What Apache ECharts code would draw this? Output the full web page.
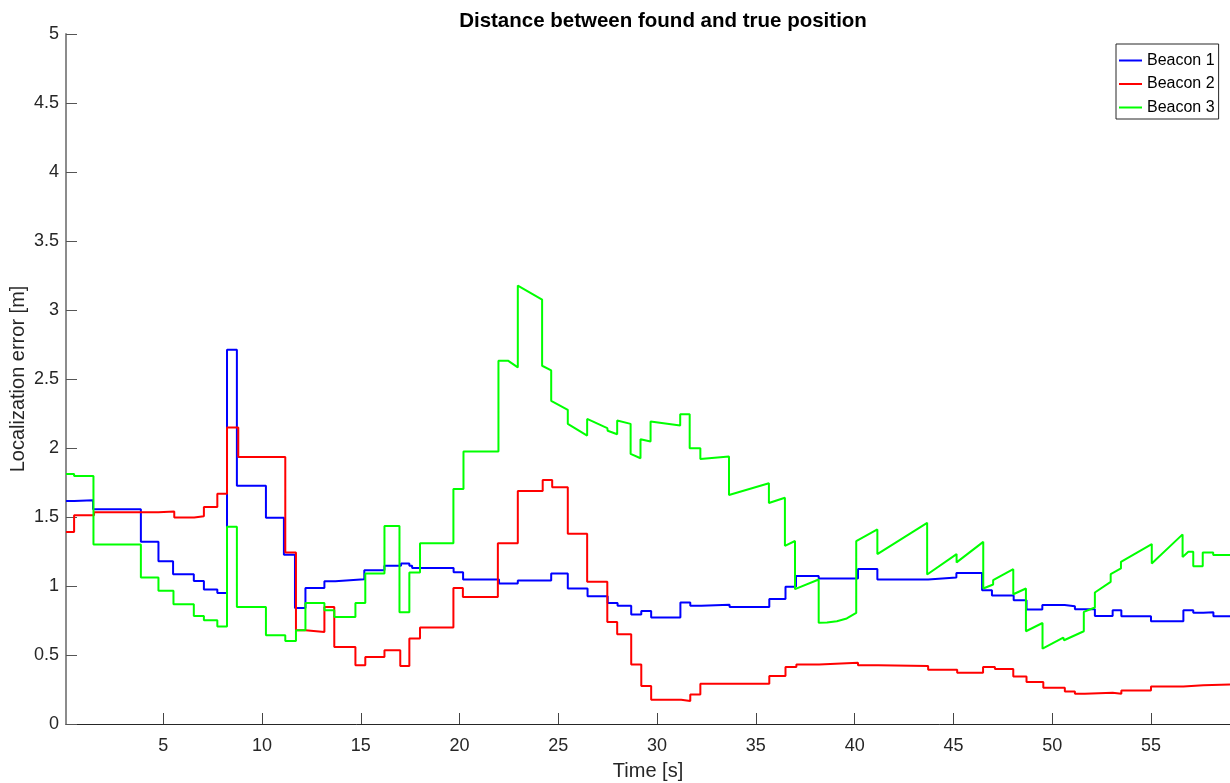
<!DOCTYPE html>
<html>
<head>
<meta charset="utf-8">
<title>Distance between found and true position</title>
<script src="https://cdn.jsdelivr.net/npm/echarts@6/dist/echarts.min.js"></script>
<style>
  html, body { margin: 0; padding: 0; background: #fff; }
  #chart { width: 1230px; height: 783px; }
</style>
</head>
<body>
<div id="chart"></div>
<script>
// Localization error of each beacon over time: [time s, error m]
// Beacons 1 and 2 hold each estimate until the next update (step lines).
const beacon1 = [
  [0.08,1.616],[0.5,1.622],[1.45,1.557],[3.87,1.32],[4.76,1.18],[5.5,1.086],[6.55,1.037],
  [7.06,0.975],[7.74,0.95],[8.23,2.712],[8.73,1.727],[10.2,1.495],[11.11,1.227],[11.67,0.84],
  [12.2,0.986],[13.16,1.035],[13.71,1.049],[15.18,1.115],[16.2,1.146],[17.04,1.163],[17.46,1.146],
  [17.6,1.13],[19.7,1.1],[20.18,1.047],[22.0,1.018],[22.95,1.04],[24.64,1.09],[25.48,0.982],
  [26.48,0.926],[27.5,0.877],[28.0,0.856],[28.69,0.793],[29.2,0.819],[29.7,0.771],[31.18,0.88],
  [31.68,0.856],[32.24,0.865],[33.67,0.848],[35.68,0.905],[36.5,0.994],[37.03,1.072],[38.18,1.054],
  [40.17,1.124],[41.15,1.047],[43.72,1.061],[45.15,1.095],[46.45,0.969],[46.95,0.931],[48.05,0.897],
  [48.7,0.829],[49.5,0.863],[50.63,0.853],[51.15,0.832],[52.16,0.783],[53.06,0.824],[53.5,0.781],
  [55.0,0.744],[56.64,0.824],[57.14,0.807],[57.65,0.81],[58.16,0.781],[59.0,0.781]
];

const beacon2 = [
  [0.08,1.391],[0.49,1.512],[1.5,1.534],[4.76,1.54],[5.56,1.497],[6.57,1.505],[7.06,1.572],
  [7.74,1.669],[8.23,2.148],[8.8,1.935],[11.18,1.242],[11.72,0.679],[12.2,0.667],[13.16,0.848],
  [13.66,0.558],[14.73,0.425],[15.23,0.485],[16.2,0.534],[17.0,0.42],[17.46,0.619],[18.0,0.699],
  [19.69,0.986],[20.17,0.921],[21.94,1.309],[22.95,1.688],[24.21,1.768],[24.69,1.715],[25.48,1.378],
  [26.46,1.03],[27.48,0.739],[27.98,0.65],[28.69,0.432],[29.2,0.275],[29.7,0.176],[31.22,0.167],
  [31.68,0.214],[32.19,0.292],[35.68,0.347],[36.5,0.413],[37.05,0.432],[38.2,0.443],[40.17,0.425],
  [41.19,0.42],[43.72,0.394],[45.19,0.372],[46.5,0.413],[47.1,0.398],[48.03,0.345],[48.7,0.304],
  [49.55,0.263],[50.64,0.236],[51.15,0.219],[51.65,0.226],[53.06,0.22],[53.5,0.243],[55.0,0.272],
  [56.64,0.281],[57.65,0.287],[59.0,0.287]
];

// Beacon 3 drifts between updates, so its samples are joined directly.
const beacon3 = [
  [0.08,1.812],[0.49,1.812],[0.49,1.797],[1.47,1.797],[1.47,1.301],[3.87,1.301],[3.87,1.062],
  [4.76,1.062],[4.76,0.965],[5.52,0.965],[5.52,0.868],[6.55,0.868],[6.55,0.783],[7.06,0.783],
  [7.06,0.752],[7.74,0.752],[7.74,0.706],[8.23,0.706],[8.23,1.429],[8.73,1.429],[8.73,0.848],
  [10.2,0.848],[10.2,0.643],[11.18,0.643],[11.18,0.601],[11.72,0.601],[11.72,0.679],[12.2,0.679],
  [12.2,0.877],[13.16,0.877],[13.16,0.824],[13.66,0.824],[13.66,0.776],[14.73,0.776],[14.73,0.877],
  [15.23,0.877],[15.23,1.091],[16.2,1.091],[16.2,1.434],[16.96,1.434],[16.96,0.81],[17.46,0.81],
  [17.46,1.098],[18.0,1.098],[18.0,1.309],[19.69,1.309],[19.69,1.703],[20.2,1.703],[20.2,1.974],
  [21.97,1.974],[21.97,2.633],[22.45,2.633],[22.95,2.584],[22.95,3.177],[24.18,3.076],[24.18,2.596],
  [24.64,2.562],[24.64,2.342],[25.48,2.277],[25.48,2.175],[26.46,2.09],[26.46,2.211],[27.48,2.144],
  [27.5,2.125],[27.98,2.1],[27.98,2.199],[28.66,2.175],[28.66,1.957],[29.16,1.926],[29.16,2.064],
  [29.67,2.047],[29.67,2.192],[31.17,2.163],[31.17,2.245],[31.65,2.245],[31.65,1.999],[32.19,1.999],
  [32.19,1.921],[33.64,1.938],[33.64,1.659],[35.66,1.744],[35.66,1.601],[36.47,1.64],[36.47,1.291],
  [36.98,1.326],[36.98,0.977],[38.18,1.047],[38.18,0.733],[38.6,0.735],[39.1,0.745],[39.6,0.765],
  [40.08,0.805],[40.08,1.325],[41.15,1.41],[41.15,1.231],[43.67,1.458],[43.67,1.083],[45.16,1.231],
  [45.16,1.171],[46.51,1.32],[46.51,0.982],[47.01,1.011],[47.01,1.042],[48.03,1.122],[48.03,0.94],
  [48.67,0.982],[48.67,0.672],[49.51,0.732],[49.51,0.546],[50.56,0.626],[50.6,0.607],[51.6,0.672],
  [51.6,0.812],[52.16,0.844],[52.16,0.953],[52.96,1.03],[52.96,1.086],[53.48,1.127],[53.48,1.175],
  [55.04,1.304],[55.04,1.163],[56.6,1.374],[56.6,1.211],[56.89,1.248],[57.14,1.248],[57.14,1.144],
  [57.62,1.144],[57.62,1.243],[58.15,1.243],[58.15,1.224],[59.0,1.224]
];

const seriesNames = ['Beacon 1', 'Beacon 2', 'Beacon 3'];
const seriesColors = ['#0000ff', '#ff0000', '#00ff00'];
const timeTicks = [5, 10, 15, 20, 25, 30, 35, 40, 45, 50, 55];
const errorTicks = [0, 0.5, 1, 1.5, 2, 2.5, 3, 3.5, 4, 4.5, 5];
const timeRange = [0.08, 59.0];
const errorRange = [0, 5];

const FONT = '"Liberation Sans", Arial, Helvetica, sans-serif';
const INK = '#262626';

const chart = echarts.init(document.getElementById('chart'), null, { renderer: 'canvas' });

function lineSeries(name, data, color, step) {
  return {
    name: name,
    type: 'line',
    data: data,
    step: step,
    showSymbol: false,
    symbol: 'none',
    clip: true,
    color: color,
    lineStyle: { color: color, width: 2 },
    emphasis: { disabled: true }
  };
}

chart.setOption({
  animation: false,
  backgroundColor: '#ffffff',
  grid: { left: 66, right: 0, top: 34, bottom: 59, containLabel: false, outerBoundsMode: 'none' },
  graphic: [{
    type: 'text',
    x: 663,
    y: 21.5,
    style: {
      text: 'Distance between found and true position',
      font: 'bold 20.5px ' + FONT,
      fill: '#000000',
      textAlign: 'center',
      textVerticalAlign: 'middle'
    }
  }],
  legend: {
    orient: 'vertical',
    left: 1116,
    top: 44,
    data: seriesNames,
    icon: 'rect',
    itemWidth: 23,
    itemHeight: 2,
    itemGap: 7.5,
    padding: [8.5, 4, 3.5, 3],
    borderColor: INK,
    borderWidth: 1,
    backgroundColor: '#ffffff',
    selectedMode: false,
    textStyle: { fontFamily: FONT, fontSize: 16, color: '#000000' }
  },
  xAxis: {
    type: 'value',
    min: timeRange[0],
    max: timeRange[1],
    name: 'Time [s]',
    nameLocation: 'middle',
    nameGap: 37,
    nameMoveOverlap: false,
    nameTextStyle: { fontFamily: FONT, fontSize: 20, color: INK },
    axisLine: { show: true, onZero: false, lineStyle: { color: INK, width: 1 } },
    axisTick: { show: true, inside: true, length: 11, customValues: timeTicks, lineStyle: { color: '#444444' } },
    axisLabel: { customValues: timeTicks, margin: 13, fontFamily: FONT, fontSize: 18, color: INK },
    splitLine: { show: false }
  },
  yAxis: {
    type: 'value',
    min: errorRange[0],
    max: errorRange[1],
    interval: 0.5,
    name: 'Localization error [m]',
    nameLocation: 'middle',
    nameGap: 38,
    nameMoveOverlap: false,
    nameRotate: 90,
    nameTextStyle: { fontFamily: FONT, fontSize: 20, color: INK },
    axisLine: { show: true, onZero: false, lineStyle: { color: '#8c8c8c', width: 2 } },
    axisTick: { show: true, inside: true, length: 11, customValues: errorTicks, lineStyle: { color: '#555555' } },
    axisLabel: { customValues: errorTicks, margin: 7, fontFamily: FONT, fontSize: 18, color: INK },
    splitLine: { show: false }
  },
  series: [
    lineSeries(seriesNames[0], beacon1, seriesColors[0], 'end'),
    lineSeries(seriesNames[1], beacon2, seriesColors[1], 'end'),
    lineSeries(seriesNames[2], beacon3, seriesColors[2], false)
  ]
});
</script>
</body>
</html>
